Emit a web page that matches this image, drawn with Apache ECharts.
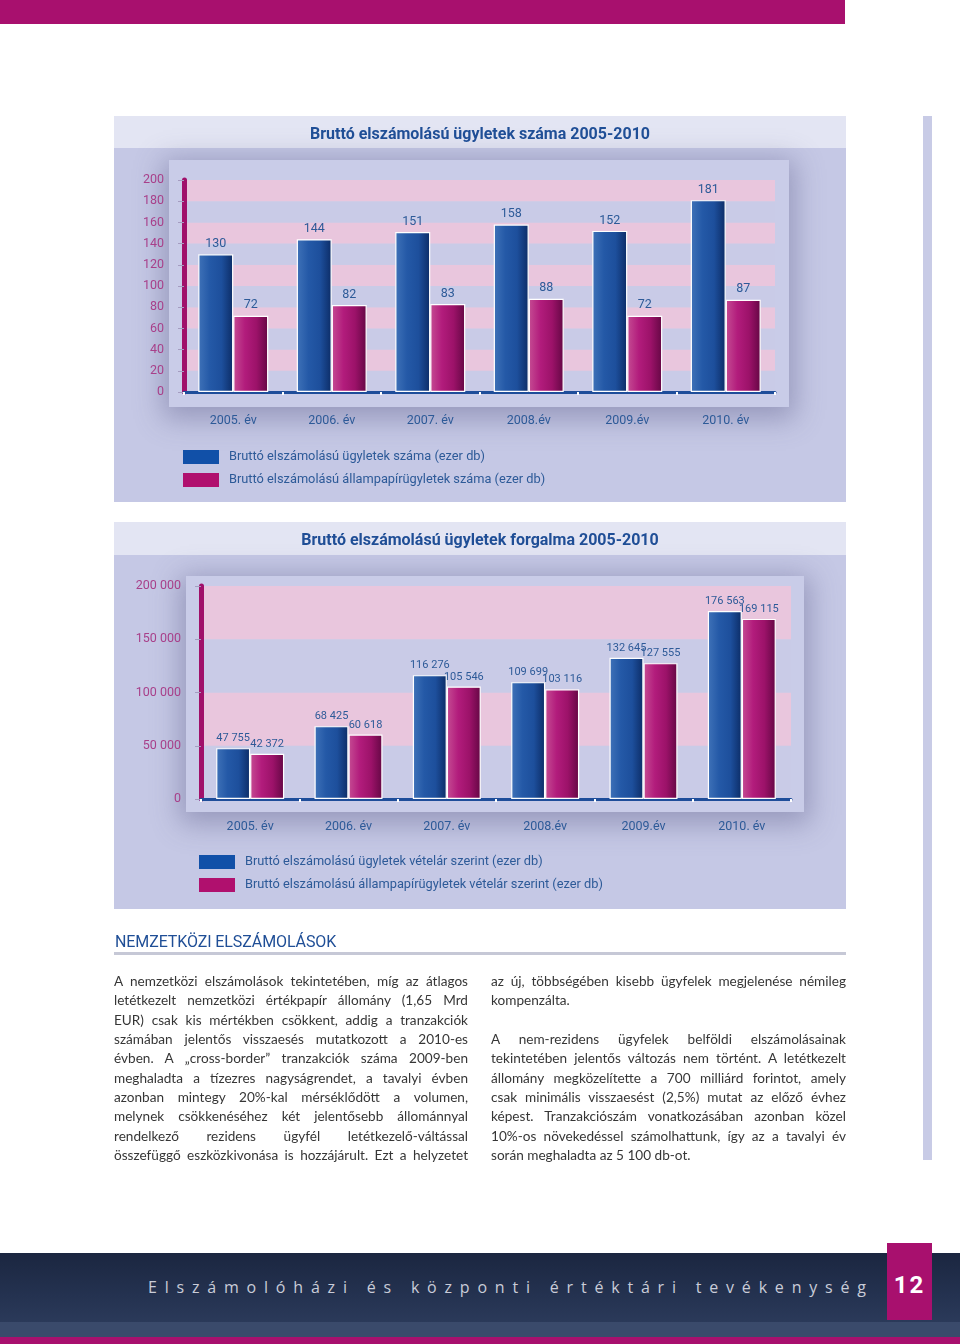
<!DOCTYPE html>
<html>
<head>
<meta charset="utf-8">
<script src="https://cdn.jsdelivr.net/npm/echarts@6/dist/echarts.min.js"></script>
<style>
  html,body{margin:0;padding:0;background:#fff;}
  #page{position:relative;width:960px;height:1344px;background:#fff;overflow:hidden;}
  .abs{position:absolute;}
  #chart{position:absolute;left:0;top:0;width:960px;height:1344px;}
  .txt{position:absolute;font-family:Lato,"Open Sans",sans-serif;font-size:13.6px;color:#363636;}
  .ln{position:absolute;left:0;width:100%;white-space:nowrap;text-align:justify;text-align-last:justify;height:19px;line-height:19px;}
  .ln.last{text-align-last:left;}
</style>
</head>
<body>
<div id="page">
  <!-- decorative backgrounds -->
  <div class="abs" style="left:0;top:0;width:845px;height:24px;background:#a8106e;"></div>
  <div class="abs" style="left:923px;top:116px;width:9px;height:1044px;background:#c8cbe6;"></div>

  <div class="abs" style="left:114px;top:116px;width:732px;height:386px;background:#c5c8e5;overflow:hidden;">
    <div class="abs" style="left:0;top:0;width:732px;height:32px;background:#e3e5f3;"></div>
    <div class="abs" style="left:55px;top:44px;width:620px;height:247px;background:#c9cce8;box-shadow:0 6px 26px 6px rgba(95,95,140,0.45);"></div>
  </div>
  <div class="abs" style="left:114px;top:522px;width:732px;height:387px;background:#c5c8e5;overflow:hidden;">
    <div class="abs" style="left:0;top:0;width:732px;height:33px;background:#e3e5f3;"></div>
    <div class="abs" style="left:72px;top:54px;width:618px;height:236px;background:#c9cce8;box-shadow:0 6px 26px 6px rgba(95,95,140,0.45);"></div>
  </div>

  <div id="chart"></div>

  <!-- section heading -->
  <div class="abs" style="left:115px;top:932px;font-family:Roboto,sans-serif;font-size:16px;color:#1f4e96;letter-spacing:-0.1px;">NEMZETKÖZI ELSZÁMOLÁSOK</div>
  <div class="abs" style="left:114px;top:952px;width:732px;height:3px;background:#c6c8d6;"></div>

  <!-- body text -->
  <div class="txt" id="leftCol" style="left:114px;top:972px;width:354px;height:200px;"></div>
  <div class="txt" id="rightCol" style="left:491px;top:972px;width:355px;height:200px;"></div>

  <!-- footer -->
  <div class="abs" style="left:0;top:1253px;width:960px;height:70px;background:linear-gradient(180deg,#1b2640 0%,#243250 60%,#2b3a5a 100%);"></div>
  <div class="abs" style="left:0;top:1322px;width:960px;height:15px;background:#3a4a6b;"></div>
  <div class="abs" style="left:0;top:1337px;width:960px;height:7px;background:#a8106e;"></div>
  <div class="abs" style="left:887px;top:1243px;width:45px;height:77px;background:#a8106e;"></div>
  <div class="abs" style="left:887px;top:1271px;width:45px;text-align:center;font-family:Roboto,sans-serif;font-weight:bold;font-size:24px;letter-spacing:2px;color:#fff;line-height:28px;">12</div>
  <div id="footText" class="abs" style="left:148px;top:1276px;white-space:nowrap;font-family:'Open Sans',sans-serif;font-size:16px;color:#c9ccd8;line-height:22px;">Elszámolóházi és központi értéktári tevékenység</div>
</div>

<script>
// ---------------- DATA ----------------
const years = ['2005. év', '2006. év', '2007. év', '2008.év', '2009.év', '2010. év'];
const countTotal = [130, 144, 151, 158, 152, 181];        // Bruttó elszámolású ügyletek száma (ezer db)
const countGov = [72, 82, 83, 88, 72, 87];                // Bruttó elszámolású állampapírügyletek száma (ezer db)
const turnoverTotal = [47755, 68425, 116276, 109699, 132645, 176563];
const turnoverGov = [42372, 60618, 105546, 103116, 127555, 169115];
const axis1 = {min: 0, max: 200, interval: 20};
const axis2 = {min: 0, max: 200000, interval: 50000};

const title1 = 'Bruttó elszámolású ügyletek száma 2005-2010';
const title2 = 'Bruttó elszámolású ügyletek forgalma 2005-2010';
const name1a = 'Bruttó elszámolású ügyletek száma (ezer db)';
const name1b = 'Bruttó elszámolású állampapírügyletek száma (ezer db)';
const name2a = 'Bruttó elszámolású ügyletek vételár szerint (ezer db)';
const name2b = 'Bruttó elszámolású állampapírügyletek vételár szerint (ezer db)';

const leftLines = [
  'A nemzetközi elszámolások tekintetében, míg az átlagos',
  'letétkezelt nemzetközi értékpapír állomány (1,65 Mrd',
  'EUR) csak kis mértékben csökkent, addig a tranzakciók',
  'számában jelentős visszaesés mutatkozott a 2010-es',
  'évben. A „cross-border” tranzakciók száma 2009-ben',
  'meghaladta a tízezres nagyságrendet, a tavalyi évben',
  'azonban mintegy 20%-kal mérséklődött a volumen,',
  'melynek csökkenéséhez két jelentősebb állománnyal',
  'rendelkező rezidens ügyfél letétkezelő-váltással',
  'összefüggő eszközkivonása is hozzájárult. Ezt a helyzetet'
];
const rightLines = [
  'az új, többségében kisebb ügyfelek megjelenése némileg',
  'kompenzálta.',
  '',
  'A nem-rezidens ügyfelek belföldi elszámolásainak',
  'tekintetében jelentős változás nem történt. A letétkezelt',
  'állomány megközelítette a 700 milliárd forintot, amely',
  'csak minimális visszaesést (2,5%) mutat az előző évhez',
  'képest. Tranzakciószám vonatkozásában azonban közel',
  '10%-os növekedéssel számolhattunk, így az a tavalyi év',
  'során meghaladta az 5 100 db-ot.'
];
const rightLast = [1, 9];

// ---------------- TEXT ----------------
function fillCol(id, lines, lastIdx) {
  const el = document.getElementById(id);
  lines.forEach((t, i) => {
    if (!t) return;
    const d = document.createElement('div');
    d.className = 'ln' + (lastIdx.includes(i) ? ' last' : '');
    d.style.top = (i * 19.35) + 'px';
    d.textContent = t;
    el.appendChild(d);
  });
}
fillCol('leftCol', leftLines, []);
fillCol('rightCol', rightLines, rightLast);

(function fitFooter() {
  const el = document.getElementById('footText');
  const target = 718;
  const n = el.textContent.length;
  el.style.letterSpacing = '0px';
  const w = el.getBoundingClientRect().width;
  el.style.letterSpacing = ((target - w) / (n - 1)) + 'px';
})();

// ---------------- CHART ----------------
const F = 'Roboto, sans-serif';
const BLUE_TXT = '#2d5a98';
const fmt = v => String(v).replace(/\B(?=(\d{3})+(?!\d))/g, ' ');

function grad(stops) {
  return new echarts.graphic.LinearGradient(0, 0, 1, 0, stops.map((c, i) => ({offset: i / (stops.length - 1), color: c})));
}
const blueFill = grad(['#3f72b8', '#2459a7', '#1d4f9c', '#0c2c66']);
const pinkFill = grad(['#c54c93', '#b21c7c', '#9c1269', '#640744']);

function xAxis(gridIndex, margin) {
  return {
    type: 'category', gridIndex, data: years,
    axisLine: {lineStyle: {color: '#1e4d9a', width: 3}},
    axisTick: {show: true, inside: false, length: 3, lineStyle: {color: '#ffffff', width: 2}},
    axisLabel: {color: BLUE_TXT, fontSize: 12.5, margin, fontFamily: F},
    splitLine: {show: false}
  };
}
function yAxis(gridIndex, ax, formatter) {
  return {
    type: 'value', gridIndex, min: ax.min, max: ax.max, interval: ax.interval,
    axisLine: {show: true, lineStyle: {color: '#a0106a', width: 5}},
    axisTick: {show: true, length: 6, lineStyle: {color: '#a49cc0', width: 1}},
    axisLabel: {color: '#a8408a', fontSize: 12.5, margin: 20, fontFamily: F, formatter},
    splitLine: {show: false},
    splitArea: {show: true, areaStyle: {color: ['#c9cbe7', '#e9c6dd']}}
  };
}
function bar(name, data, xi, yi, fill, width, fs, formatter) {
  return {
    name, type: 'bar', xAxisIndex: xi, yAxisIndex: yi, data,
    barWidth: width, barGap: '0%',
    itemStyle: {color: fill, borderColor: '#ffffff', borderWidth: 1.2},
    label: {show: true, position: 'top', distance: 4, color: BLUE_TXT, fontSize: fs, fontFamily: F, formatter},
    emphasis: {disabled: true}
  };
}

const chart = echarts.init(document.getElementById('chart'), null, {renderer: 'canvas'});
chart.setOption({
  animation: false,
  textStyle: {fontFamily: F},
  title: [
    {text: title1, left: 'center', top: 122, textStyle: {color: '#1f4e96', fontSize: 16, fontWeight: 'bold', fontFamily: F}},
    {text: title2, left: 'center', top: 528, textStyle: {color: '#1f4e96', fontSize: 16, fontWeight: 'bold', fontFamily: F}}
  ],
  legend: [
    {
      left: 183, top: 450, orient: 'vertical', itemWidth: 36, itemHeight: 14, itemGap: 9, padding: 0,
      icon: 'rect', selectedMode: false,
      textStyle: {color: BLUE_TXT, fontSize: 12.8, fontFamily: F, padding: [0, 0, 0, 5]},
      data: [{name: name1a, itemStyle: {color: '#1150a8', borderWidth: 0}}, {name: name1b, itemStyle: {color: '#b0106e', borderWidth: 0}}]
    },
    {
      left: 199, top: 855, orient: 'vertical', itemWidth: 36, itemHeight: 14, itemGap: 9, padding: 0,
      icon: 'rect', selectedMode: false,
      textStyle: {color: BLUE_TXT, fontSize: 12.8, fontFamily: F, padding: [0, 0, 0, 5]},
      data: [{name: name2a, itemStyle: {color: '#1150a8', borderWidth: 0}}, {name: name2b, itemStyle: {color: '#b0106e', borderWidth: 0}}]
    }
  ],
  grid: [
    {left: 184, top: 180, width: 591, height: 212, containLabel: false},
    {left: 201, top: 586, width: 590, height: 213, containLabel: false}
  ],
  xAxis: [xAxis(0, 22), xAxis(1, 21)],
  yAxis: [yAxis(0, axis1, v => v), yAxis(1, axis2, v => fmt(v))],
  series: [
    bar(name1a, countTotal, 0, 0, blueFill, 35, 12.5, p => p.value),
    bar(name1b, countGov, 0, 0, pinkFill, 35, 12.5, p => p.value),
    bar(name2a, turnoverTotal, 1, 1, blueFill, 34, 11, p => fmt(p.value)),
    bar(name2b, turnoverGov, 1, 1, pinkFill, 34, 11, p => fmt(p.value))
  ]
});
</script>
</body>
</html>
